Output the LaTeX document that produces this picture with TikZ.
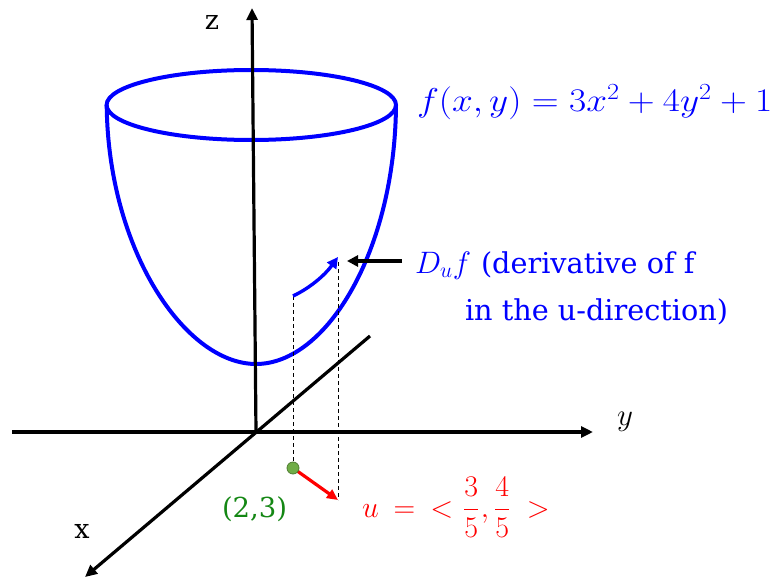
\RequirePackage{fix-cm}
\documentclass[tikz,border=0pt]{standalone}
\usepackage{amsmath}
\usepackage{fontspec}
\newfontfamily\lblfont{DejaVu Serif}
\usetikzlibrary{arrows.meta}
\definecolor{gtext}{RGB}{20,135,20}
\definecolor{gdot}{RGB}{112,173,71}
\definecolor{gdotb}{RGB}{80,126,50}
\tikzset{
  axis/.style={line width=3.2pt,-{Triangle[length=12pt,width=11pt]}},
  surf/.style={blue,line width=4pt},
  guide/.style={line width=1pt,dash pattern=on 4pt off 3pt},
  lbl/.style={inner sep=0pt,outer sep=0pt},
}
\begin{document}
\begin{tikzpicture}[x=1pt,y=-1pt]
\useasboundingbox (0,0) rectangle (772,578);
% coordinates
\coordinate (O) at (256,432);
\coordinate (ztop) at (252,8);
\coordinate (yleft) at (12,432);
\coordinate (ytip) at (593,432);
\coordinate (xtop) at (370,336);
\coordinate (xtip) at (85,577);
\coordinate (ec) at (251.3,105);
\coordinate (eL) at (106.7,105);
\coordinate (eR) at (396,105);
\coordinate (bot) at (256,364);
\coordinate (P) at (293,468);
\coordinate (Q) at (338,500);
\coordinate (A) at (293,296);
\coordinate (B) at (338,257);
\coordinate (Bt) at (338,262);
\coordinate (ptrT) at (402,261);
\coordinate (ptrH) at (347,261);
% paraboloid
\draw[surf] (ec) ellipse [x radius=144.7pt, y radius=35pt];
\draw[surf] (eL) .. controls (108,250) and (185,364) .. (bot)
            .. controls (327,364) and (395,250) .. (eR);
% axes
\draw[axis] (O) -- (ztop);
\draw[axis] (yleft) -- (ytip);
\draw[axis] (xtop) -- (xtip);
% guides
\draw[guide] (A) -- (P);
\draw[guide] (Bt) -- (Q);
% directional derivative arrow
\draw[blue,line width=3.4pt,-{Triangle[length=11pt,width=11pt]}] (A) .. controls (310,288) and (325,275) .. (B);
% pointer
\draw[line width=3.2pt,-{Triangle[length=11pt,width=11pt]}] (ptrT) -- (ptrH);
% u vector
\draw[red,line width=3.2pt,-{Triangle[length=11pt,width=10pt]}] (P) -- (Q);
\node[circle,fill=gdot,draw=gdotb,line width=0.8pt,minimum size=12pt,inner sep=0pt] (pt) at (P) {};
% labels
\node[lbl,font=\lblfont\fontsize{27}{27}\selectfont] (zl) at (212,22) {z};
\node[lbl,font=\lblfont\fontsize{27}{27}\selectfont] (xl) at (82,531) {x};
\node[lbl,font=\fontsize{31}{31}\selectfont,anchor=base] (yl) at (625,425) {$y$};
\node[lbl,blue,font=\fontsize{33}{33}\selectfont,anchor=base west] (fl) at (417,111) {\scalebox{1.13}[1]{$f(x,y)=3x^2+4y^2+1$}};
\node[lbl,blue,font=\fontsize{31}{31}\selectfont,anchor=base west] (dl) at (415,273) {$D_uf$};
\node[lbl,blue,font=\lblfont\fontsize{28.7}{28.7}\selectfont,anchor=base west] (dl1) at (481,273) {(derivative of f};
\node[lbl,blue,font=\lblfont\fontsize{28.7}{28.7}\selectfont,anchor=base west] (dl2) at (465,320) {in the u-direction)};
\node[lbl,gtext,font=\lblfont\fontsize{27.5}{27.5}\selectfont,anchor=base west] (pl) at (222,517) {(2,3)};
\node[lbl,red,font=\fontsize{30}{30}\selectfont,anchor=base west] (ul) at (362,517) {$u\mkern9mu{=}\mkern9mu{<}\mkern6mu\dfrac{3}{5}\mkern1mu{,}\mkern3mu\dfrac{4}{5}\mkern10mu{>}$};
\end{tikzpicture}
\end{document}
